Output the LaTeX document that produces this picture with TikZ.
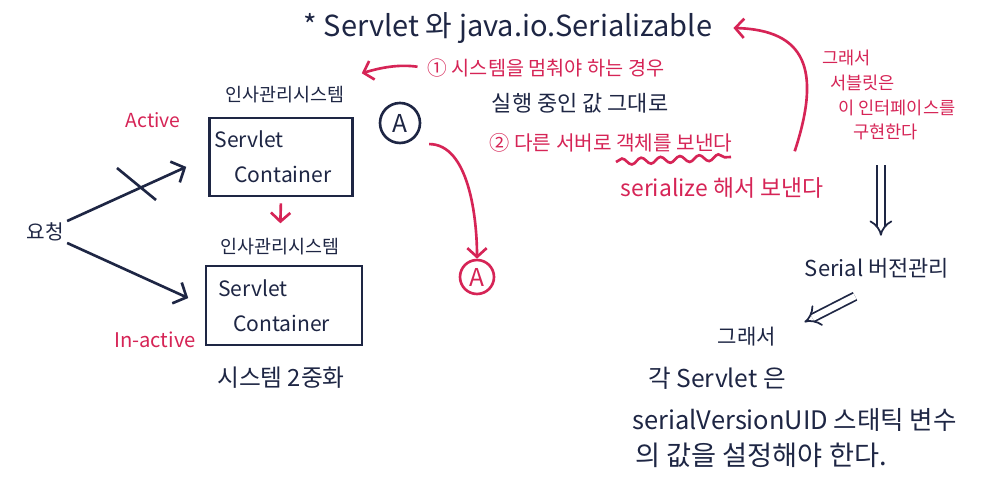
\documentclass[tikz,border=0pt]{standalone}
\usepackage{fontspec}
\setmainfont{Noto Sans CJK KR}
\usepackage{xcolor}
\usetikzlibrary{arrows.meta,decorations.pathmorphing}
\definecolor{ink}{RGB}{30,38,68}
\definecolor{redink}{RGB}{214,36,86}
\tikzset{
  hand/.style={text=ink, inner sep=0pt, font=\fontsize{#1}{\dimexpr#1pt*140/100\relax}\selectfont},
  note/.style={hand=#1, text=redink},
  scbox/.style={draw=ink, line width=1.6pt, hand=12, align=left, inner sep=0pt},
  circ/.style={circle, draw=ink, line width=1.5pt, minimum size=#1, inner sep=0pt, hand=14},
  arr/.style={ink, line width=1.5pt, -{Straight Barb[length=6pt,width=13pt,line width=1.5pt]}},
  redarr/.style={redink, line width=1.5pt, -{Straight Barb[length=5pt,width=11pt,line width=1.5pt]}},
  dbl/.style={ink, line width=1pt, double distance=3.5pt, -{Implies[length=10pt,width=16pt]}},
  wave/.style={redink, line width=1.5pt, decorate, decoration={snake, amplitude=1.8pt, segment length=11pt}}
}

\begin{document}
\begin{tikzpicture}[x=0.02cm, y=-0.02cm]
\fill[white] (0,0) rectangle (982,502);
\useasboundingbox (0,0) rectangle (982,502);
% left: two containers
\node[hand=16.5] (title) at (508,28) {* Servlet 와 java.io.Serializable};
\node[note=11.2] (stop) at (546,68) {① 시스템을 멈춰야 하는 경우};
\node[hand=10.5] (sys1) at (285,95) {인사관리시스템};
\node[note=11] (active) at (153,120) {Active};
\node[scbox, minimum width=2.86cm, minimum height=1.56cm, text width=2.66cm] (top) at (281,157) {Servlet\\[3pt]\hspace{0.4cm}Container};
\node[hand=11.5] (req) at (45,232) {요청};
\node[hand=10.5] (sys2) at (280,247) {인사관리시스템};
\node[scbox, minimum width=3.12cm, minimum height=1.58cm, text width=2.64cm] (bot) at (284,305.5) {Servlet\\[3pt]\hspace{0.3cm}Container};
\node[note=11.5] (inact) at (155,340) {In-active};
\node[hand=13.5] (dual) at (281,378) {시스템 2중화};
\draw[arr, shorten <=2pt, shorten >=0.48cm] (req.north east) -- (top.west);
\draw[ink, line width=1.5pt] (117,168) -- (156,200);
\draw[arr, shorten <=2pt, shorten >=0.36cm] (req.south east) -- (bot.west);
\draw[redarr, shorten <=0.12cm, shorten >=0.3cm] (top.south) -- (sys2.north);
\draw[redarr, shorten <=0.2cm] (stop.west) to[bend right=12] ([shift={(0.34cm,0.26cm)}]sys1.north east);
% middle: sending the object
\node[circ=0.8cm] (a1) at (400,123) {A};
\node[circ=0.68cm, draw=redink, text=redink] (a2) at (477,277) {A};
\draw[redarr] ([shift={(0.28cm,-0.12cm)}]a1.south east) .. controls +(40,0) and +(0,-40) .. (a2.north);
\node[hand=12.5] (keep) at (580,103) {실행 중인 값 그대로};
\node[note=11.5] (send) at (611,143) {② 다른 서버로 객체를 보낸다};
\draw[wave] (616,162) -- (731,157);
\node[note=13] (ser) at (722,188) {serialize 해서 보낸다};
\draw[redarr] ([shift={(-0.58cm,0.52cm)}]ser.north east) .. controls +(27,-82) and +(72,2) .. ([xshift=0.42cm]title.east);
% right: version management
\node[note=10, anchor=north west, align=left] (impl) at (822,50) {그래서\\\hspace{0.16cm}서블릿은\\\hspace{0.32cm}이 인터페이스를\\\hspace{0.62cm}구현한다};
\node[hand=12.5] (ver) at (877,268) {Serial 버전관리};
\draw[dbl, shorten <=0.5cm, shorten >=0.44cm] ([xshift=-0.16cm]impl.south) -- ([xshift=-0.16cm]impl.south |- ver.north);
\node[hand=12] (then) at (747,337) {그래서};
\node[hand=14] (each) at (717,378) {각 Servlet 은};
\node[hand=14.5, anchor=west] (uid) at (632,420) {serialVersionUID 스태틱 변수};
\node[hand=15.5, anchor=west] (must) at (635,455) {의 값을 설정해야 한다.};
\draw[dbl] ([shift={(-0.44cm,-0.36cm)}]ver.south) -- ([shift={(0.56cm,0.1cm)}]then.north east);
\end{tikzpicture}
\end{document}
